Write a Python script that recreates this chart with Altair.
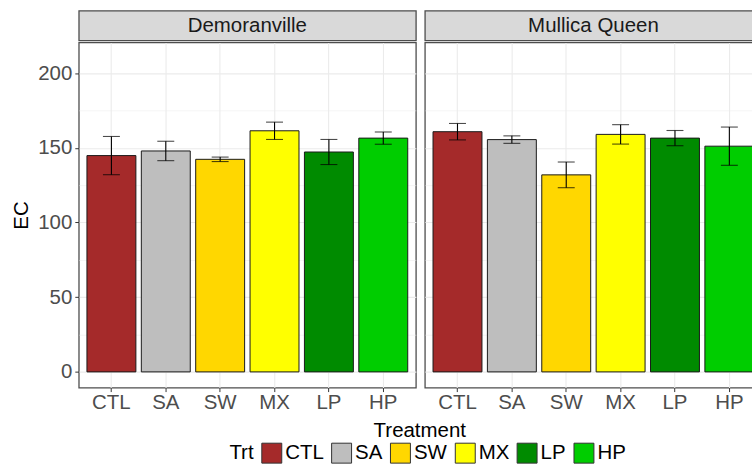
import altair as alt
import pandas as pd

# Treatment order, fill colours and the two sites
trt = ["CTL", "SA", "SW", "MX", "LP", "HP"]
trt_colors = ["#A52A2A", "#BEBEBE", "#FFD700", "#FFFF00", "#008B00", "#00CD00"]
sites = ["Demoranville", "Mullica Queen"]

# Mean EC and standard error for each site
dem_mean = [144.8, 147.9, 142.3, 161.4, 147.2, 156.5]
dem_se = [12.8, 6.5, 1.5, 5.8, 8.4, 4.1]
mq_mean = [160.8, 155.5, 131.9, 159.0, 156.5, 151.1]
mq_se = [5.5, 2.5, 8.6, 6.5, 5.1, 12.8]

FONT = "Liberation Sans"
PANEL_W = 338
PANEL_H = 346
STRIP_H = 30
BORDER = "#4d4d4d"


def site_frame(site, means, ses):
    return pd.DataFrame({
        "site": site,
        "Trt": trt,
        "EC": means,
        "lo": [m - s for m, s in zip(means, ses)],
        "hi": [m + s for m, s in zip(means, ses)],
    })


major = "datum.value % 50 == 0"


def panel(df, first):
    x_axis = alt.Axis(
        title=None,
        labelFontSize=20.5, labelColor="#4D4D4D", labelPadding=1, labelAngle=0,
        domain=False, tickColor="#333333", tickSize=4, tickWidth=1,
        gridColor="#EBEBEB", gridWidth=1.1, grid=True,
    )
    if first:
        y_axis = alt.Axis(
            title="EC", titleFontSize=20.5, titleFontWeight="normal",
            titleColor="black", titlePadding=6,
            values=list(range(0, 201, 25)),
            labelExpr=f"{major} ? datum.label : ''",
            labelFontSize=20.5, labelColor="#4D4D4D", labelPadding=3,
            domain=False, tickColor="#333333", tickSize=4, tickWidth=1,
            tickOpacity=alt.condition(major, alt.value(1), alt.value(0)),
            gridColor="#EBEBEB",
            gridWidth=alt.condition(major, alt.value(1.1), alt.value(0.55)),
        )
    else:
        y_axis = alt.Axis(
            title=None, labels=False, ticks=False, domain=False,
            values=list(range(0, 201, 25)), gridColor="#EBEBEB",
            gridWidth=alt.condition(major, alt.value(1.1), alt.value(0.55)),
        )

    x = alt.X("Trt:N", sort=trt, axis=x_axis,
              scale=alt.Scale(paddingInner=0.1, paddingOuter=0.15))
    y_scale = alt.Scale(domain=[-10.5, 220.5], nice=False, zero=False)

    base = alt.Chart(df)
    bars = base.mark_bar(stroke="#1a1a1a", strokeWidth=1).encode(
        x=x,
        y=alt.Y("EC:Q", scale=y_scale, axis=y_axis),
        y2=alt.datum(0),
        color=alt.Color(
            "Trt:N",
            scale=alt.Scale(domain=trt, range=trt_colors),
            legend=alt.Legend(
                title="Trt", orient="none", direction="horizontal",
                legendX=151, legendY=433,
                titleOrient="left", titleFontSize=20.5, titleFontWeight="normal",
                titleColor="black", titlePadding=7, titleBaseline="middle",
                labelFontSize=20.5, labelColor="black", labelOffset=3,
                columnPadding=5, symbolType="square", symbolSize=400,
                symbolStrokeColor="#333333", symbolStrokeWidth=1,
                symbolOpacity=1,
            ),
        ),
    )
    rules = base.mark_rule(color="black", strokeWidth=1.1).encode(
        x=alt.X("Trt:N", sort=trt), y=alt.Y("lo:Q", scale=y_scale), y2="hi:Q"
    )
    cap_lo = base.mark_tick(color="black", size=17, thickness=1.1).encode(
        x=alt.X("Trt:N", sort=trt), y=alt.Y("lo:Q", scale=y_scale)
    )
    cap_hi = base.mark_tick(color="black", size=17, thickness=1.1).encode(
        x=alt.X("Trt:N", sort=trt), y=alt.Y("hi:Q", scale=y_scale)
    )
    return alt.layer(bars, rules, cap_lo, cap_hi).properties(
        width=PANEL_W, height=PANEL_H
    )


def strip(site):
    return alt.Chart(pd.DataFrame({"site": [site]})).mark_text(
        font=FONT, fontSize=20.5, color="#1A1A1A"
    ).encode(text="site:N").properties(
        width=PANEL_W, height=STRIP_H,
        view=alt.ViewBackground(fill="#D9D9D9", stroke=BORDER, strokeWidth=1.3),
    )


cols = []
for i, (site, m, s) in enumerate([(sites[0], dem_mean, dem_se),
                                   (sites[1], mq_mean, mq_se)]):
    cols.append(alt.vconcat(strip(site), panel(site_frame(site, m, s), i == 0),
                            spacing=0))

# the second panel runs past the right edge of the canvas
chart = alt.hconcat(*cols, spacing=7).properties(
    title=alt.TitleParams(
        "Treatment", orient="bottom", anchor="middle", fontSize=20.5,
        fontWeight="normal", color="black", font=FONT, offset=0,
        dx=33, dy=-44,
    ),
    padding={"left": 11, "top": 9, "right": -11, "bottom": 0},
).configure(font=FONT).configure_view(
    stroke=BORDER, strokeWidth=1.3
)

chart.save("out.html", embed_options={"renderer": "svg", "actions": False})
